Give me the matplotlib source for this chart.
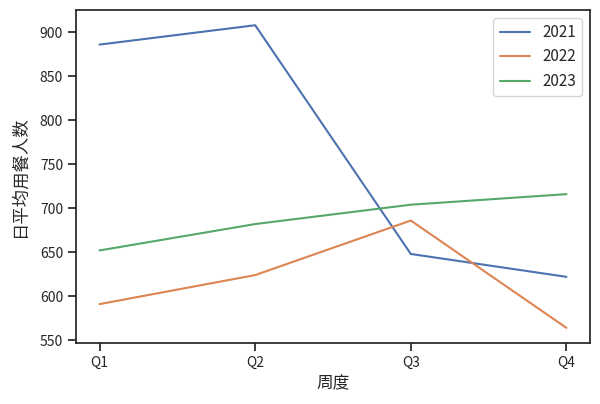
import matplotlib
matplotlib.use("Agg")
import matplotlib.pyplot as plt
import seaborn as sns

sns.set_theme(style="ticks")
plt.rcParams['font.family'] = ['Noto Sans CJK SC', 'DejaVu Sans']
plt.rcParams['axes.unicode_minus'] = False

quarters = ["Q1", "Q2", "Q3", "Q4"]
y2021 = [886, 908, 648, 622]
y2022 = [591, 624, 686, 564]
y2023 = [652, 682, 704, 716]

fig = plt.figure(figsize=(6, 4.04), dpi=100)
ax = fig.add_axes([0.127, 0.151, 0.856, 0.824])
ax.plot(quarters, y2021, label="2021")
ax.plot(quarters, y2022, label="2022")
ax.plot(quarters, y2023, label="2023")
ax.set_xlabel("周度", fontsize=12)
ax.set_ylabel("日平均用餐人数", fontsize=12.5, labelpad=8)
ax.tick_params(labelsize=10)
ax.legend(loc="upper right")
fig.savefig("out.png", dpi=100)
